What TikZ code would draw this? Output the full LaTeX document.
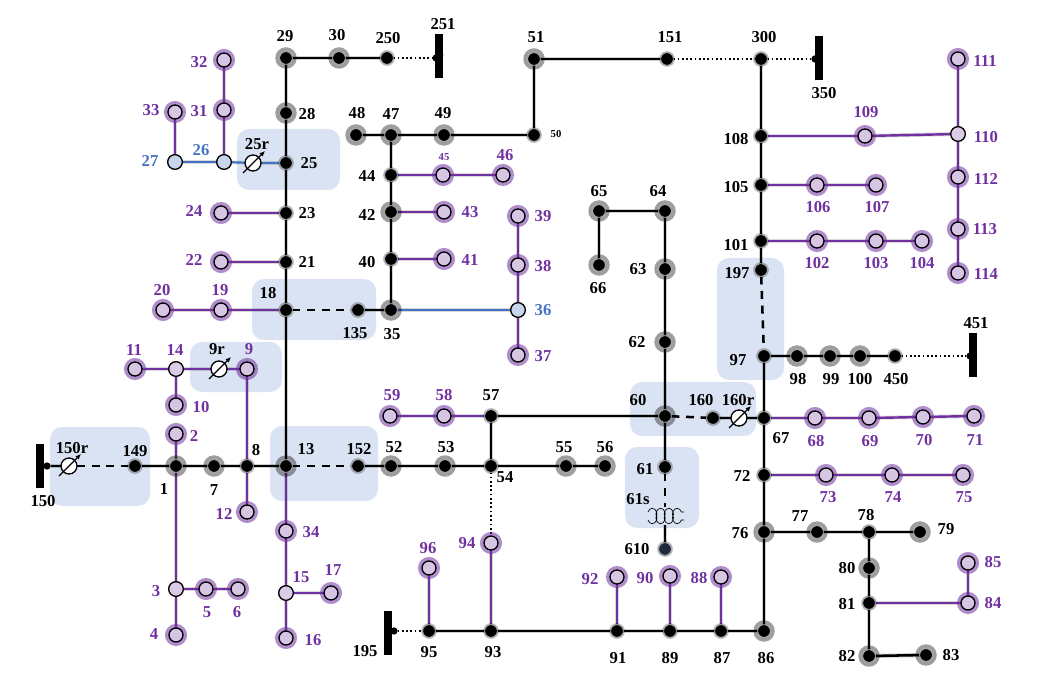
\documentclass[tikz,border=0pt]{standalone}
\usepackage{fontspec}
\setmainfont{Liberation Serif}
\usepackage{tikz}
\usetikzlibrary{arrows.meta,backgrounds,decorations.pathmorphing}
\definecolor{purpline}{HTML}{7030A0}
\definecolor{blueline}{HTML}{4472C4}
\definecolor{zonefill}{HTML}{DAE3F3}
\definecolor{darkbus}{HTML}{1F2A3C}
\tikzset{
  busbase/.style={circle, inner sep=0pt, outer sep=0pt},
  bigbus/.style={busbase, minimum size=9.5pt, fill=black, draw=black!25, line width=.5pt,
    preaction={draw=black, draw opacity=.38, line width=6.5pt}},
  smallbus/.style={busbase, minimum size=9.5pt, fill=black, draw=black!25, line width=.5pt,
    preaction={draw=black, draw opacity=.3, line width=2.2pt}},
  purpbus/.style={busbase, minimum size=10.5pt, fill=purpline!28, draw=black, line width=1pt,
    preaction={draw=purpline, draw opacity=.55, line width=6pt}},
  lilacbus/.style={busbase, minimum size=11pt, fill=purpline!25, draw=black, line width=1pt},
  bluebus/.style={busbase, minimum size=11pt, fill=blueline!30, draw=black, line width=1pt},
  tapbus/.style={busbase, minimum size=5.5pt, fill=black},
  barbus/.style={inner sep=0pt, outer sep=0pt, minimum width=5.5pt, minimum height=33pt, fill=black},
  regbox/.style={busbase, minimum size=12pt, fill=white, draw=black, line width=1pt},
  zone/.style={fill=zonefill, rounded corners=9pt},
  bline/.style={draw=black, line width=1.9pt, preaction={draw=black, draw opacity=.18, line width=3.2pt}},
  pline/.style={draw=purpline, line width=1.8pt, preaction={draw=black, draw opacity=.15, line width=3pt}},
  cline/.style={draw=blueline, line width=1.6pt, preaction={draw=black, draw opacity=.15, line width=2.8pt}},
  dline/.style={draw=black, line width=1.9pt, dash pattern=on 6pt off 5pt},
  oline/.style={draw=black, line width=1.3pt, dash pattern=on 1.3pt off 1.9pt},
  blklab/.style={font=\bfseries\fontsize{12.5}{12.5}\selectfont, text=black, inner sep=0pt},
  purlab/.style={font=\bfseries\fontsize{12.5}{12.5}\selectfont, text=purpline, inner sep=0pt},
  blulab/.style={font=\bfseries\fontsize{12.5}{12.5}\selectfont, text=blueline, inner sep=0pt},
  coilrow/.style={draw=black, line width=.5pt, decorate,
    decoration={coil, aspect=.6, amplitude=2.8pt, segment length=6.2pt}},
}
\begin{document}
\begin{tikzpicture}[x=0.75pt, y=-0.75pt, >=Latex]

\path[use as bounding box] (0,0) rectangle (1038,695);

% Black buses with a wide ring
\foreach \n/\x/\y in {29/286/58, 30/339/58, 28/286/113, 35/391/310, 42/391/212,
  47/391/135, 48/356/135, 49/444/135, 51/534/59, 1/176/466, 7/214/466, 13/286/466,
  52/391/466, 53/445/466, 55/566/466, 56/605/466, 60/665/416, 62/665/342, 63/665/269,
  64/665/211, 65/599/211, 66/599/265, 98/797/356, 99/830/356, 100/860/356,
  76/764/532, 77/817/532, 79/920/532, 80/869/568, 82/869/656, 83/926/655, 86/764/631} {
  \node[bigbus] (n\n) at (\x,\y) {};
}

% Black buses with a thin ring
\foreach \n/\x/\y in {250/387/58, 25/286/163, 23/286/213, 21/286/262, 18/286/310,
  135/358/310, 40/391/259, 44/391/175, 50/534/135, 151/667/59, 300/761/59, 108/761/136,
  105/761/185, 101/761/241, 197/761/270, 97/764/356, 450/895/356, 67/764/418, 72/764/475,
  78/869/532, 81/869/603, 87/721/631, 89/670/631, 91/617/631, 93/491/631, 95/429/631,
  8/247/466, 149/135/466, 152/358/466, 54/491/466, 57/491/416, 160/713/418, 61/665/467} {
  \node[smallbus] (n\n) at (\x,\y) {};
}
\node[smallbus, fill=darkbus] (n610) at (665,549) {};

% Purple buses
\foreach \n/\x/\y in {32/224/60, 31/224/110, 33/175/112, 24/221/213, 22/221/262,
  20/163/310, 19/221/310, 11/135/369, 9/247/369, 10/176/405, 2/176/434, 12/247/512,
  34/286/531, 17/331/593, 16/286/638, 5/206/589, 6/238/589, 4/176/635, 45/443/175,
  46/503/175, 43/444/212, 41/444/259, 39/518/216, 38/518/265, 37/518/355, 59/390/416,
  58/444/416, 96/429/568, 94/491/543, 92/617/577, 90/670/576, 88/721/577, 111/958/59,
  112/958/177, 113/958/229, 114/958/273, 109/865/136, 106/817/185, 107/876/185,
  102/817/241, 103/876/241, 104/922/241, 68/815/418, 69/869/418, 70/923/417, 71/974/416,
  73/826/475, 74/892/475, 75/963/475, 85/968/563, 84/968/603} {
  \node[purpbus] (n\n) at (\x,\y) {};
}
\foreach \n/\x/\y in {14/176/369, 15/286/593, 3/176/589, 110/958/134} {
  \node[lilacbus] (n\n) at (\x,\y) {};
}
\foreach \n/\x/\y in {27/175/162, 26/224/162, 36/518/310} {
  \node[bluebus] (n\n) at (\x,\y) {};
}

% Source bars and their taps
\foreach \n/\x/\y in {150/40/466, 251/439/56, 350/819/58, 451/973/355, 195/388/633} {
  \node[barbus] (n\n) at (\x,\y) {};
}
\node[tapbus] (t150) at (47,466) {};
\node[tapbus] (t251) at (436,58) {};
\node[tapbus] (t350) at (815,59) {};
\node[tapbus] (t451) at (970,356) {};
\node[tapbus] (t195) at (394,631) {};

% Regulators
\foreach \n/\x/\y in {25/253/163, 9/219/369, 150/69/466, 160/739/418} {
  \node[regbox] (r\n) at (\x,\y) {};
  \draw[-{Latex[length=4pt,width=3.5pt]}, line width=.9pt]
    ([shift={(-10,10)}]r\n.center) -- ([shift={(12,-12)}]r\n.center);
}

% Transformer 61s
\coordinate (x61a) at (665,507);
\coordinate (x61b) at (665,525);
\coordinate (c61a) at (648,512);
\coordinate (c61b) at (684,512);
\coordinate (c61c) at (648,520);
\coordinate (c61d) at (684,520);
\draw[coilrow] (c61a) -- (c61b);
\draw[coilrow, decoration={mirror}] (c61c) -- (c61d);

\begin{scope}[on background layer]
% Shaded zones
\fill[zone] (237,129) rectangle (340,190);
\fill[zone] (252,279) rectangle (376,340);
\fill[zone] (190,342) rectangle (282,392);
\fill[zone] (50,427) rectangle (150,506);
\fill[zone] (270,426) rectangle (378,501);
\fill[zone] (717,258) rectangle (784,380);
\fill[zone] (630,382) rectangle (756,436);
\fill[zone] (625,447) rectangle (699,528);

% Black lines
\foreach \a/\b in {29/30, 30/250, 29/28, 28/25, 25/23, 23/21, 21/18, 18/13, 135/35,
  35/40, 40/42, 42/44, 44/47, 48/47, 47/49, 49/50, 50/51, 51/151, 300/108, 108/105,
  105/101, 101/197, 97/67, 97/98, 98/99, 99/100, 100/450, 67/72, 72/76, 76/86, 76/77,
  77/78, 78/79, 78/80, 80/81, 81/82, 82/83, 86/87, 87/89, 89/91, 91/93, 93/95,
  149/1, 1/7, 7/8, 8/13, 152/52, 52/53, 53/54, 54/55, 55/56, 54/57, 57/60, 60/61,
  60/62, 62/63, 63/64, 64/65, 65/66} {
  \draw[bline] (n\a) -- (n\b);
}
\draw[bline] (n150) -- (t150);
\draw[bline] (t150) -- (r150);
\draw[bline] (n160) -- (r160);
\draw[bline] (r160) -- (n67);
\draw[bline] (x61b) -- (n610);
\draw[bline] (n251) -- (t251);
\draw[bline] (n350) -- (t350);
\draw[bline] (n451) -- (t451);
\draw[bline] (n195) -- (t195);

% Dashed and dotted lines
\draw[dline] (r150) -- (n149);
\draw[dline] (n18) -- (n135);
\draw[dline] (n13) -- (n152);
\draw[dline] (n197) -- (n97);
\draw[dline] (n60) -- (n160);
\draw[dline] (n61) -- (x61a);
\draw[oline] (n250) -- (t251);
\draw[oline] (n151) -- (n300);
\draw[oline] (n300) -- (t350);
\draw[oline] (n450) -- (t451);
\draw[oline] (t195) -- (n95);
\draw[oline] (n54) -- (n94);

% Purple lines
\foreach \a/\b in {94/93, 96/95, 92/91, 90/89, 88/87, 59/58, 58/57, 67/68, 68/69, 69/70,
  70/71, 72/73, 73/74, 74/75, 81/84, 84/85, 108/109, 109/110, 110/111, 110/112, 112/113,
  113/114, 105/106, 106/107, 101/102, 102/103, 103/104, 44/45, 45/46, 42/43, 40/41,
  36/38, 38/39, 36/37, 21/22, 23/24, 18/19, 19/20, 26/31, 31/32, 27/33, 13/34, 34/15,
  15/16, 15/17, 1/2, 1/3, 3/4, 3/5, 5/6, 8/9, 14/11, 14/10, 8/12} {
  \draw[pline] (n\a) -- (n\b);
}
\draw[pline] (n9) -- (r9);
\draw[pline] (r9) -- (n14);

% Blue lines
\draw[cline] (n35) -- (n36);
\draw[cline] (n25) -- (r25);
\draw[cline] (r25) -- (n26);
\draw[cline] (n26) -- (n27);
\end{scope}

% Black labels
\foreach \t/\x/\y in {29/285/36, 30/337/35, 250/388/38, 251/443/24, 51/536/37, 151/670/37,
  300/764/37, 350/824/93, 28/307/114, 48/357/113, 47/391/114, 49/443/113, 44/367/176,
  25/309/163, 23/307/213, 21/307/262, 42/367/215, 40/367/262, 18/268/293, 135/355/333,
  35/392/334, 65/599/191, 64/658/191, 63/638/269, 62/637/342, 108/736/139, 105/736/187,
  101/736/245, 197/737/273, 97/738/360, 98/798/379, 99/831/379, 100/860/379, 450/896/379,
  451/976/323, 66/598/288, 57/491/395, 60/638/400, 160/701/400, 160r/738/400, 67/781/438,
  72/742/476, 76/740/533, 77/800/516, 78/866/515, 79/946/529, 80/847/568, 81/847/604,
  82/847/656, 83/951/655, 86/766/658, 87/722/658, 89/670/658, 91/618/658, 93/493/652,
  95/429/652, 195/365/651, 610/637/549, 61/645/469, 61s/638/499, 52/394/447, 53/446/447,
  54/505/477, 55/564/447, 56/605/447, 152/359/449, 13/306/449, 8/256/450, 1/164/489,
  7/214/490, 149/135/451, 150r/72/448, 150/43/501, 9r/217/349, 25r/257/144} {
  \node[blklab] (l\t) at (\x,\y) {\t};
}
\node[blklab, font=\bfseries\fontsize{8}{8}\selectfont] (l50) at (556,134) {50};

% Purple labels
\foreach \t/\x/\y in {32/199/62, 33/151/110, 31/199/111, 24/194/211, 22/194/260, 20/162/290,
  19/220/290, 11/134/350, 14/175/350, 9/249/349, 10/201/407, 2/194/436, 12/224/514,
  34/311/532, 15/301/577, 17/333/570, 16/313/640, 3/156/591, 5/207/612, 6/237/612, 4/154/634,
  46/505/155, 43/470/212, 41/470/260, 39/543/216, 38/543/266, 37/543/356, 59/392/395,
  58/444/395, 96/428/548, 94/467/543, 92/590/579, 90/645/578, 88/699/578, 111/985/61,
  110/986/137, 112/986/179, 113/985/229, 114/986/274, 109/866/112, 106/818/207, 107/877/207,
  102/817/263, 103/876/263, 104/922/263, 68/816/441, 69/870/441, 70/924/440, 71/975/440,
  73/828/497, 74/893/497, 75/964/497, 85/993/562, 84/993/603} {
  \node[purlab] (l\t) at (\x,\y) {\t};
}
\node[purlab, font=\bfseries\fontsize{8}{8}\selectfont] (l45) at (444,157) {45};

% Blue labels
\foreach \t/\x/\y in {27/150/161, 26/201/150, 36/543/310} {
  \node[blulab] (l\t) at (\x,\y) {\t};
}
\end{tikzpicture}
\end{document}
